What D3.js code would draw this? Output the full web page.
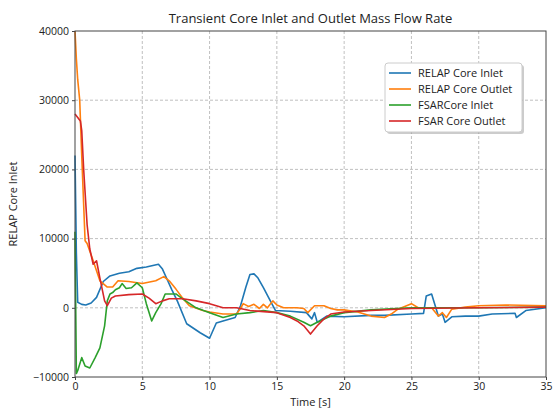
<!DOCTYPE html>
<html>
<head>
<meta charset="utf-8">
<script src="https://cdn.jsdelivr.net/npm/d3@7"></script>
<style>
  body { margin: 0; background: #fff; }
  text { font-family: "Open Sans", sans-serif; fill: #222; }
</style>
</head>
<body>
<script>
const W = 553, H = 410
const margin = {top: 31, right: 7, bottom: 33, left: 75}

const xTicks = [0, 5, 10, 15, 20, 25, 30, 35]
const yTicks = [-10000, 0, 10000, 20000, 30000, 40000]

// [time s, mass flow] pairs
const relapInlet = [
  [0, 22000], [0.1, 8000], [0.2, 800], [0.5, 500], [0.8, 400], [1.2, 700], [1.6, 1500],
  [2.1, 3800], [2.6, 4600], [3.3, 5000], [4.0, 5200], [4.6, 5700], [5.3, 5900],
  [6.2, 6300], [6.5, 5600], [6.8, 4300], [7.2, 2600], [7.6, 1000], [8.3, -2300],
  [9.3, -3600], [10.0, -4400], [10.5, -2200], [11.0, -1900], [11.9, -1400],
  [12.3, 300], [12.7, 3000], [13.0, 4800], [13.3, 4900], [13.6, 4300], [14.0, 2900],
  [14.35, 1600], [14.9, -400], [16.0, -500], [17.2, -700], [17.6, -1600], [17.8, -700],
  [18.0, -2100], [18.7, -1200], [20.0, -1300], [22.0, -1100], [23.0, -1100],
  [25.0, -900], [25.9, -800], [26.1, 1700], [26.5, 2000], [27.0, -1200], [27.3, -900],
  [27.5, -2100], [28.0, -1300], [29.0, -1200], [30.0, -1200], [31.0, -900],
  [32.7, -800], [32.8, -1400], [33.5, -400], [35.0, 0]
]
const relapOutlet = [
  [0, 40000], [0.1, 36000], [0.2, 33000], [0.35, 30000], [0.5, 22000], [0.75, 9700],
  [0.9, 9300], [1.35, 6800], [1.85, 3900], [2.4, 3000], [2.8, 3000], [3.2, 3900],
  [4.0, 3800], [5.0, 3500], [6.0, 3900], [6.6, 4500], [7.0, 3900], [7.5, 2700],
  [8.0, 1400], [8.5, 300], [9.5, -400], [10.0, -600], [11.0, -900], [12.0, -900],
  [12.3, -100], [12.5, 600], [12.9, 200], [13.3, 500], [13.7, -100], [14.0, 500],
  [14.3, 0], [14.7, 1000], [15.0, 400], [15.5, 0], [16.5, 0], [17.0, -100],
  [17.3, -700], [17.8, 300], [18.5, 300], [19.0, -100], [19.5, -300], [20.0, -300],
  [21.0, -600], [22.0, -1200], [23.0, -1400], [23.5, -900], [24.0, -200], [25.0, 600],
  [25.5, 0], [26.5, 0], [27.0, -1200], [27.3, -700], [27.6, -1400], [28.0, -200],
  [29.0, 100], [30.0, 300], [32.0, 400], [35.0, 300]
]
const fsarInlet = [
  [0, 11000], [0.1, -9500], [0.2, -9100], [0.5, -7200], [0.75, -8400], [1.1, -8700],
  [1.5, -7200], [1.85, -5800], [2.2, -2600], [2.4, 1000], [2.6, 2000], [2.8, 2200],
  [3.0, 2600], [3.3, 2900], [3.5, 3500], [3.8, 2800], [4.2, 2900], [4.6, 3600],
  [5.0, 2900], [5.3, 600], [5.7, -1900], [6.0, -700], [6.4, 600], [6.7, 2000],
  [7.0, 2000], [7.5, 2000], [8.0, 1300], [9.0, 0], [10.0, -700], [11.0, -1400],
  [12.0, -900], [13.0, -700], [14.0, -400], [15.0, -700], [16.0, -1200],
  [17.0, -2100], [17.5, -2600], [18.0, -2100], [19.0, -1200], [20.0, -700],
  [22.0, -300], [25.0, 0], [30.0, 0], [35.0, 100]
]
const fsarOutlet = [
  [0, 28000], [0.4, 27000], [0.5, 25600], [0.65, 19800], [0.9, 12000], [1.1, 8500],
  [1.35, 6300], [1.6, 6800], [1.85, 4300], [2.2, 1000], [2.4, 300], [2.7, 1400],
  [3.0, 1700], [4.0, 1900], [5.0, 2000], [5.5, 1400], [6.0, 600], [6.5, 1000],
  [7.0, 1300], [8.0, 1300], [9.0, 1000], [10.0, 600], [11.0, 0], [12.0, 0],
  [13.0, -400], [15.0, -700], [16.0, -1400], [16.5, -1900], [17.0, -2600],
  [17.5, -3800], [18.0, -2600], [18.5, -1600], [19.0, -900], [20.0, -600],
  [22.0, -400], [25.0, -100], [30.0, 0], [35.0, 100]
]

const series = [
  {name: "RELAP Core Inlet", color: "#1f77b4", data: relapInlet},
  {name: "RELAP Core Outlet", color: "#ff7f0e", data: relapOutlet},
  {name: "FSARCore Inlet", color: "#2ca02c", data: fsarInlet},
  {name: "FSAR Core Outlet", color: "#d62728", data: fsarOutlet}
]

const svg = d3.select("body").append("svg")
  .attr("width", W).attr("height", H)

const x = d3.scaleLinear().domain([0, 35]).range([margin.left, W - margin.right])
const y = d3.scaleLinear().domain([-10000, 40000]).range([H - margin.bottom, margin.top])

// grid
svg.append("g").selectAll("line").data(xTicks.slice(1, -1)).enter().append("line")
  .attr("x1", d => x(d)).attr("x2", d => x(d))
  .attr("y1", y(40000)).attr("y2", y(-10000))
  .attr("stroke", "#b0b0b0").attr("stroke-width", 0.8).attr("stroke-dasharray", "3,2")
svg.append("g").selectAll("line").data(yTicks.slice(1, -1)).enter().append("line")
  .attr("x1", x(0)).attr("x2", x(35))
  .attr("y1", d => y(d)).attr("y2", d => y(d))
  .attr("stroke", "#b0b0b0").attr("stroke-width", 0.8).attr("stroke-dasharray", "3,2")

const line = d3.line().x(d => x(d[0])).y(d => y(d[1]))

svg.append("g").selectAll("path").data(series).enter().append("path")
  .attr("d", d => line(d.data))
  .attr("fill", "none")
  .attr("stroke", d => d.color)
  .attr("stroke-width", 1.6)
  .attr("stroke-linejoin", "round")

// frame
svg.append("rect")
  .attr("x", x(0)).attr("y", y(40000))
  .attr("width", x(35) - x(0)).attr("height", y(-10000) - y(40000))
  .attr("fill", "none").attr("stroke", "#444").attr("stroke-width", 1)

const xAxis = svg.append("g")
  .attr("transform", `translate(0,${y(-10000)})`)
  .call(d3.axisBottom(x).tickValues(xTicks).tickSize(3).tickPadding(3))
const yAxis = svg.append("g")
  .attr("transform", `translate(${x(0)},0)`)
  .call(d3.axisLeft(y).tickValues(yTicks).tickSize(3).tickPadding(3)
    .tickFormat(d => d < 0 ? "\u2212" + Math.abs(d) : d))
for (const g of [xAxis, yAxis]) {
  g.select(".domain").remove()
  g.selectAll("line").attr("stroke", "#444")
  g.selectAll("text").attr("font-size", "10.5px").attr("font-family", "Open Sans, sans-serif").attr("fill", "#222")
}

svg.append("text")
  .attr("x", (x(0) + x(35)) / 2).attr("y", 23)
  .attr("text-anchor", "middle").attr("font-size", "13px")
  .text("Transient Core Inlet and Outlet Mass Flow Rate")

svg.append("text")
  .attr("x", (x(0) + x(35)) / 2).attr("y", 406)
  .attr("text-anchor", "middle").attr("font-size", "11px")
  .text("Time [s]")

svg.append("text")
  .attr("transform", `translate(17,${(y(40000) + y(-10000)) / 2}) rotate(-90)`)
  .attr("text-anchor", "middle").attr("font-size", "11px")
  .text("RELAP Core Inlet")

// legend
const lg = svg.append("g").attr("transform", "translate(385,63)")
lg.append("rect").attr("x", 2).attr("y", 2).attr("width", 137).attr("height", 69)
  .attr("rx", 3).attr("fill", "#999").attr("opacity", 0.5)
lg.append("rect").attr("width", 137).attr("height", 69)
  .attr("rx", 3).attr("fill", "#fff").attr("stroke", "#ccc")
const items = lg.selectAll("g.item").data(series).enter().append("g")
  .attr("transform", (d, i) => `translate(0,${10 + i * 16})`)
items.append("line").attr("x1", 4).attr("x2", 26)
  .attr("stroke", d => d.color).attr("stroke-width", 1.6)
items.append("text").attr("x", 33).attr("dy", "0.35em")
  .attr("font-size", "11px").text(d => d.name)
</script>
</body>
</html>
